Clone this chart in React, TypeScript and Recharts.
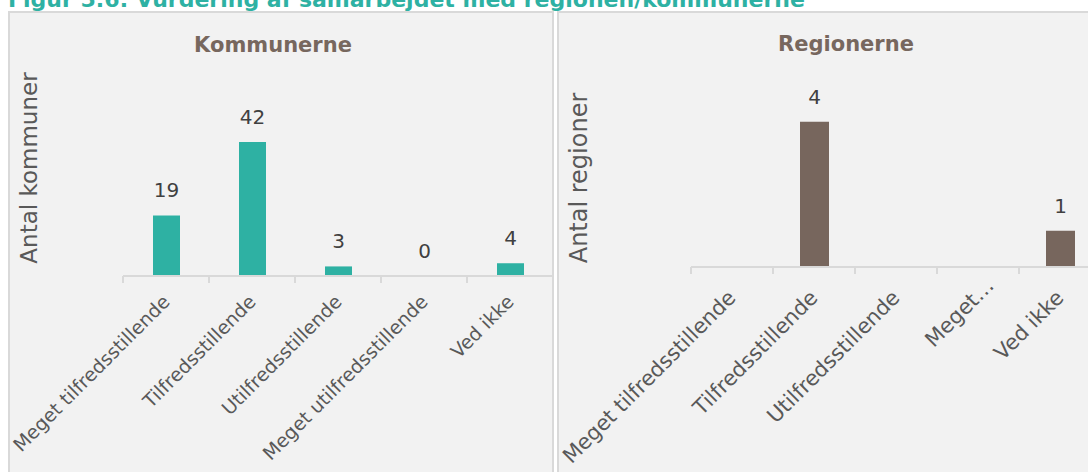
import { Bar, BarChart, LabelList, XAxis, YAxis } from "recharts";

const categories = [
  "Meget tilfredsstillende",
  "Tilfredsstillende",
  "Utilfredsstillende",
  "Meget utilfredsstillende",
  "Ved ikke",
];
const kommuneValues = [19, 42, 3, 0, 4];
const regionValues: (number | null)[] = [null, 4, null, null, 1];
const kommuneTickLabels = [
  "Meget tilfredsstillende",
  "Tilfredsstillende",
  "Utilfredsstillende",
  "Meget utilfredsstillende",
  "Ved ikke",
];
const regionTickLabels = [
  "Meget tilfredsstillende",
  "Tilfredsstillende",
  "Utilfredsstillende",
  "Meget…",
  "Ved ikke",
];

const FONT = "'DejaVu Sans', sans-serif";
const TEAL = "#2EB1A3";
const BROWN = "#77665D";
const GRID = "#D9D9D9";

const kommuneData = categories.map((name, i) => ({ name, value: kommuneValues[i] }));
const regionData = categories.map((name, i) => ({ name, value: regionValues[i] }));

// tick with the mark at the left edge of each category (like Excel) and a rotated label
const makeTick =
  (labels: string[], band: number, dx: number, dy: number, fontSize: number) =>
  (props: any) => {
    const { x, y, index } = props;
    const label = labels[index];
    // Excel pushes a truncated label a bit further along its own direction
    const shift = label.endsWith("…") ? 12 : 0;
    const tx = dx + shift;
    const ty = dy - shift;
    return (
      <g transform={`translate(${x},${y})`}>
        <line x1={-band / 2} x2={-band / 2} y1={0} y2={7} stroke={GRID} strokeWidth={2} />
        <text
          x={tx}
          y={ty}
          transform={`rotate(-45 ${tx} ${ty})`}
          textAnchor="end"
          fontSize={fontSize}
          fontFamily={FONT}
          fill="#595959"
        >
          {label}
        </text>
      </g>
    );
  };

// value label drawn by hand so that a zero bar still gets its "0"
const valueLabel = (props: any) => {
  const { x, y, width, value } = props;
  if (value == null) return null;
  return (
    <text
      x={Number(x) + Number(width) / 2}
      y={Number(y) - 18}
      textAnchor="middle"
      fontSize={20}
      fontFamily={FONT}
      fill="#404040"
    >
      {String(value)}
    </text>
  );
};

const panel = (left: number, width: number): React.CSSProperties => ({
  position: "absolute",
  left,
  top: 11,
  width,
  height: 470,
  background: "#F2F2F2",
  border: `2px solid ${GRID}`,
  boxSizing: "border-box",
});

const chartTitle = (cx: number, cy: number): React.CSSProperties => ({
  position: "absolute",
  left: cx,
  top: cy,
  transform: "translate(-50%, -50%)",
  fontFamily: FONT,
  fontWeight: "bold",
  fontSize: 21,
  color: "#77675E",
  whiteSpace: "nowrap",
});

const axisTitle = (cx: number, cy: number, size: number): React.CSSProperties => ({
  position: "absolute",
  left: cx,
  top: cy,
  transform: "translate(-50%, -50%) rotate(-90deg)",
  fontFamily: FONT,
  fontSize: size,
  color: "#595959",
  whiteSpace: "nowrap",
});

export default function App() {
  return (
    <div
      style={{
        position: "absolute",
        left: 0,
        top: 0,
        width: 1088,
        height: 472,
        overflow: "hidden",
        background: "#FFFFFF",
      }}
    >
      <div
        style={{
          position: "absolute",
          left: 8,
          top: -11,
          fontFamily: FONT,
          fontWeight: "bold",
          fontSize: 22,
          lineHeight: "22px",
          color: TEAL,
          whiteSpace: "nowrap",
        }}
      >
        Figur 5.6: Vurdering af samarbejdet med regionen/kommunerne
      </div>

      <div style={panel(8, 546)} />
      <div style={panel(557, 540)} />

      <div style={chartTitle(273, 45)}>Kommunerne</div>
      <div style={chartTitle(846, 44)}>Regionerne</div>
      <div style={axisTitle(29, 168, 23)}>Antal kommuner</div>
      <div style={axisTitle(579, 178, 24)}>Antal regioner</div>

      <div style={{ position: "absolute", left: 8, top: 11 }}>
        <BarChart
          width={545}
          height={461}
          data={kommuneData}
          margin={{ top: 105.5, right: 0, bottom: 0, left: 115 }}
        >
          <XAxis
            dataKey="name"
            interval={0}
            height={196}
            tickSize={0}
            tickMargin={0}
            tickLine={false}
            axisLine={{ stroke: GRID, strokeWidth: 2 }}
            tick={makeTick(kommuneTickLabels, 86, 5, 27, 19)}
          />
          <YAxis hide domain={[0, 50]} />
          <Bar
            dataKey="value"
            fill={TEAL}
            barSize={27}
            minPointSize={0.01}
            isAnimationActive={false}
          >
            <LabelList dataKey="value" content={valueLabel} />
          </Bar>
        </BarChart>
      </div>

      <div style={{ position: "absolute", left: 557, top: 11 }}>
        <BarChart
          width={544}
          height={461}
          data={regionData}
          margin={{ top: 74.4, right: 0, bottom: 0, left: 134 }}
        >
          <XAxis
            dataKey="name"
            interval={0}
            height={205}
            tickSize={0}
            tickMargin={0}
            tickLine={false}
            axisLine={{ stroke: GRID, strokeWidth: 2 }}
            tick={makeTick(regionTickLabels, 82, 5, 32, 21)}
          />
          <YAxis hide domain={[0, 5]} />
          <Bar dataKey="value" fill={BROWN} barSize={29} isAnimationActive={false}>
            <LabelList dataKey="value" content={valueLabel} />
          </Bar>
        </BarChart>
      </div>
    </div>
  );
}
